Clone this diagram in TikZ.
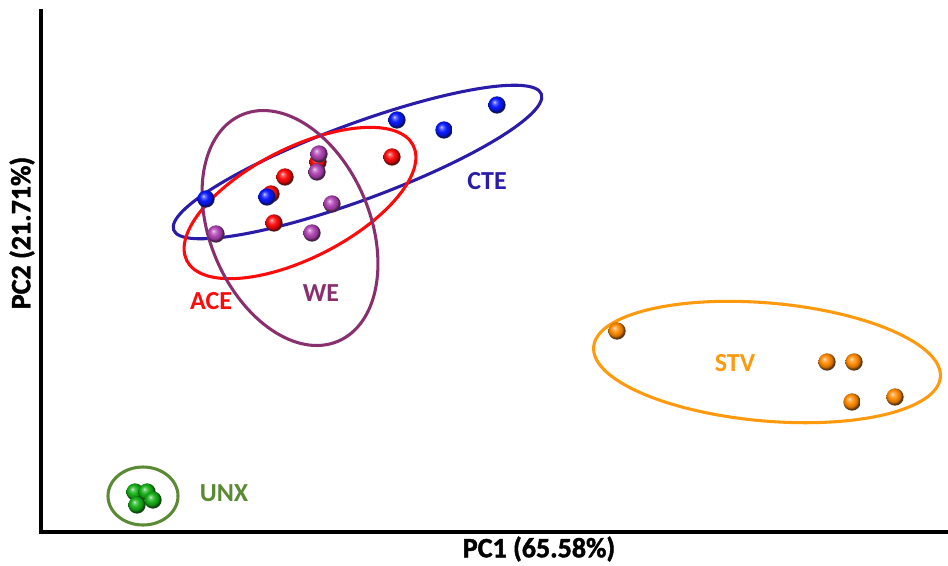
\documentclass[tikz,border=0pt]{standalone}
\usepackage{fontspec}
\setmainfont{Carlito}
\newfontfamily\heavyfont{Carlito}[BoldFeatures={FakeBold=1.6}]
\usetikzlibrary{shadings}

\definecolor{cteblue}{HTML}{2A1CA8}
\definecolor{acered}{HTML}{FF0A0A}
\definecolor{weplum}{HTML}{8A2F6E}
\definecolor{stvorange}{HTML}{FF9A0E}
\definecolor{unxgreen}{HTML}{5A8A34}
\definecolor{dotblue}{HTML}{0A1AFF}
\definecolor{dotred}{HTML}{FF0A0A}
\definecolor{dotpurple}{HTML}{B044B4}
\definecolor{dotorange}{HTML}{FF8A00}
\definecolor{dotgreen}{HTML}{18B018}

% glossy sphere: highlight up-left, full colour, dark rim
\colorlet{sampleball}{blue}
\pgfdeclareradialshading[sampleball]{sampleshade}{\pgfpoint{-8bp}{9bp}}{%
  color(0bp)=(sampleball!20!white);
  color(5bp)=(sampleball!65!white);
  color(13bp)=(sampleball);
  color(20bp)=(sampleball!80!black);
  color(25bp)=(sampleball!35!black);
  color(30bp)=(black!70);
  color(50bp)=(black!70)}

\tikzset{
  sample/.style={circle, inner sep=0pt, minimum size=13pt, shading=sampleshade,
    /utils/exec={\colorlet{sampleball}{#1}}},
  hull/.style={line width=2.3pt, draw=#1},
  grouplabel/.style={text=#1, font=\fontsize{19.5}{20}\selectfont\bfseries, inner sep=0pt},
  axislabel/.style={font=\heavyfont\fontsize{21}{22}\selectfont\bfseries, inner sep=0pt},
  axisline/.style={line width=2.6pt, black}
}

\begin{document}
\begin{tikzpicture}[x=0.75pt, y=-0.75pt]
\useasboundingbox (0,0) rectangle (948,565);

% axes
\coordinate (origin) at (41,532);
\coordinate (ytop) at (41,9);
\coordinate (xend) at (948,532);
\draw[axisline] (ytop) -- (origin) -- (xend);
\node[axislabel] (xlab) at (539,549) {PC1 (65.58\%)};
\node[axislabel, rotate=90] (ylab) at (22,233) {PC2 (21.71\%)};

% group hulls
\draw[hull=cteblue, rotate around={20.3:(357.5,162)}] (357.5,162) ellipse [x radius=196, y radius=38];
\draw[hull=acered, rotate around={27:(300,203)}] (300,203) ellipse [x radius=127, y radius=55];
\draw[hull=weplum, rotate around={23:(290,228)}] (290,228) ellipse [x radius=80, y radius=123];
\draw[hull=stvorange, rotate around={-5:(767,362)}] (767,362) ellipse [x radius=174, y radius=59];
\draw[hull=unxgreen] (143,496) ellipse [x radius=35, y radius=29];

% ACE samples
\node[sample=dotred] (ace1) at (285,177) {};
\node[sample=dotred] (ace2) at (392,157) {};
\node[sample=dotred] (ace3) at (274,223) {};
\node[sample=dotred] (ace4) at (271,194) {};
\node[sample=dotred] (ace5) at (318,162) {};

% CTE samples
\node[sample=dotblue] (cte1) at (397,120) {};
\node[sample=dotblue] (cte2) at (444,130) {};
\node[sample=dotblue] (cte3) at (497,105) {};
\node[sample=dotblue] (cte4) at (206,199) {};
\node[sample=dotblue] (cte5) at (267,197) {};

% WE samples
\node[sample=dotpurple] (we1) at (319,154) {};
\node[sample=dotpurple] (we2) at (317,172) {};
\node[sample=dotpurple] (we3) at (332,204) {};
\node[sample=dotpurple] (we4) at (312,233) {};
\node[sample=dotpurple] (we5) at (216,234) {};

% STV samples
\node[sample=dotorange] (stv1) at (617,331) {};
\node[sample=dotorange] (stv2) at (827,362) {};
\node[sample=dotorange] (stv3) at (854,362) {};
\node[sample=dotorange] (stv4) at (852,402) {};
\node[sample=dotorange] (stv5) at (895,397) {};

% UNX samples
\node[sample=dotgreen] (unx1) at (135,492) {};
\node[sample=dotgreen] (unx2) at (147,492) {};
\node[sample=dotgreen] (unx3) at (137,505) {};
\node[sample=dotgreen] (unx4) at (153,500) {};

% group labels
\node[grouplabel=cteblue] (ctelab) at (487,181) {CTE};
\node[grouplabel=acered] (acelab) at (211,301) {ACE};
\node[grouplabel=weplum] (welab) at (321,293) {WE};
\node[grouplabel=stvorange] (stvlab) at (735,363) {STV};
\node[grouplabel=unxgreen] (unxlab) at (224,493) {UNX};
\end{tikzpicture}
\end{document}
